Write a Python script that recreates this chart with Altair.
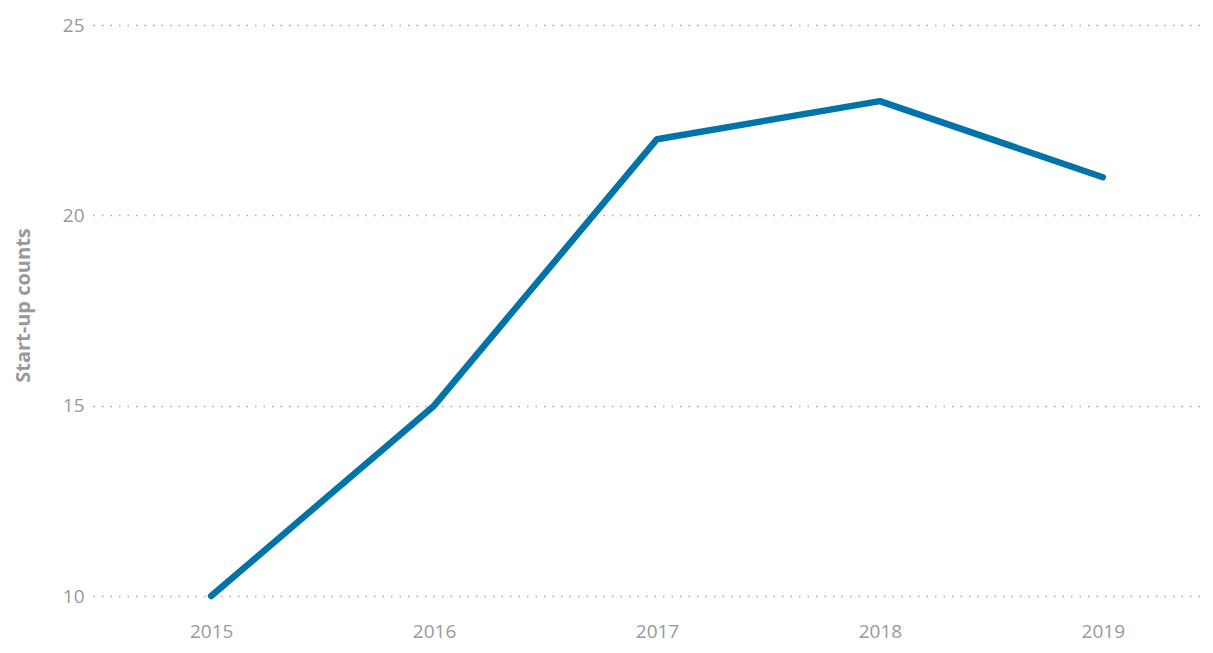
import altair as alt
import pandas as pd

years = ["2015", "2016", "2017", "2018", "2019"]
counts = [10, 15, 22, 23, 21]
y_ticks = [10, 15, 20, 25]

df = pd.DataFrame({"year": years, "count": counts})

FONT = "Open Sans"

chart = alt.Chart(df).mark_line(
    color="#0073a8", strokeWidth=6.5, strokeJoin="round", strokeCap="round"
).encode(
    x=alt.X("year:O", scale=alt.Scale(type="point", padding=0.53, range=[0, 1128]),
            axis=alt.Axis(title=None, labelAngle=0, domain=False, ticks=False,
                          grid=False, labelPadding=26, labelFontSize=19,
                          labelColor="#999999", labelFont=FONT)),
    y=alt.Y("count:Q", scale=alt.Scale(domain=[10, 25], nice=False, zero=False),
            axis=alt.Axis(title="Start-up counts", values=y_ticks, domain=False,
                          ticks=False, grid=True, gridColor="#aaaaaa",
                          gridDash=[1.5, 7], gridWidth=1.5, labelPadding=9,
                          labelFontSize=19, labelColor="#999999", labelFont=FONT,
                          titleFont=FONT, titleFontSize=20, titleFontWeight="bold",
                          titleColor="#999999", titleX=-64, titleY=280,
                          titleBaseline="alphabetic")),
).properties(
    width=1112, height=571,
    autosize=alt.AutoSizeParams(type="none"),
    padding={"left": 85, "top": 17, "right": 0, "bottom": 49},
).configure_view(stroke=None)

chart.save("out.html", embed_options={"renderer": "svg", "actions": False})
